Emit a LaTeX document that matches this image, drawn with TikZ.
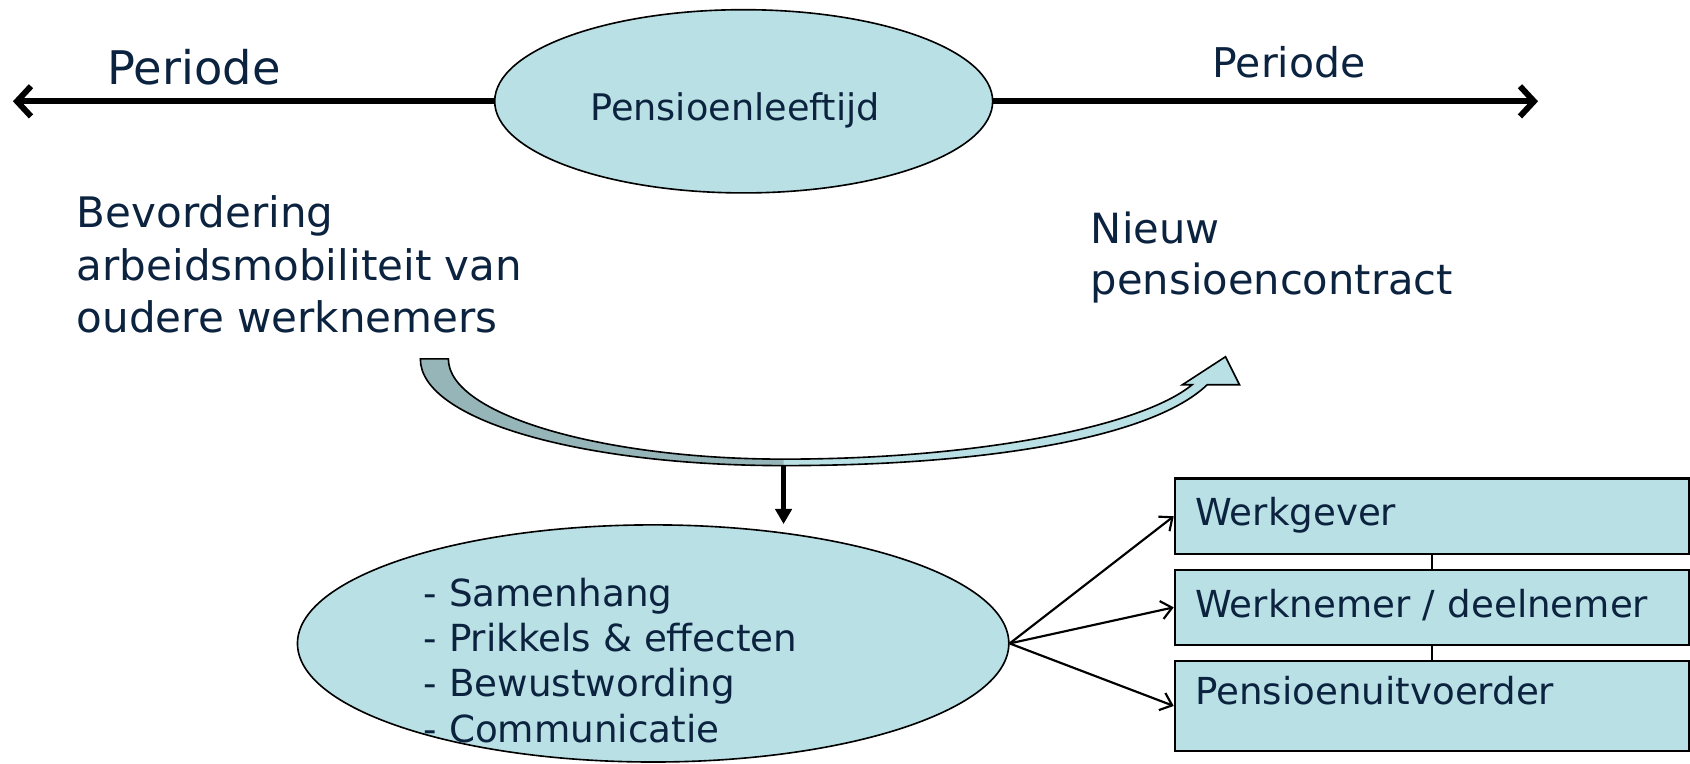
\documentclass[tikz,border=0pt]{standalone}
\usepackage{fontspec}
\setmainfont{DejaVu Sans}
\usetikzlibrary{arrows.meta}
\usetikzlibrary{shapes.geometric}
\definecolor{lichtblauw}{RGB}{185,224,228}
\definecolor{donkerblauw}{RGB}{150,181,184}
\definecolor{tekstkleur}{RGB}{12,35,64}
\begin{document}
\begin{tikzpicture}[line join=miter,x=1pt,y=-1pt,
    ovaal/.style={ellipse,draw=black,line width=1.5pt,fill=lichtblauw,inner sep=0pt},
    tekst/.style={text=tekstkleur,inner sep=0pt,align=left},
    blok/.style={rectangle,draw=black,line width=2pt,fill=lichtblauw,text=tekstkleur,
      font=\fontsize{34.5}{41}\selectfont,align=left,text width=439pt,inner xsep=19pt,
      inner ysep=0pt,minimum height=70pt,text height=26pt,text depth=8pt},
    pijl/.style={line width=5.5pt,-{Straight Barb[length=13pt,width=28pt]}},
    dun/.style={line width=2pt,-{Straight Barb[length=10pt,width=17pt]}}]
      \useasboundingbox (0,0) rectangle (1568,708);
      \fill[white] (0,0) rectangle (1568,708);
      % bovenste ovaal met de twee perioden
      \node[ovaal,minimum width=462pt,minimum height=170pt] (leeftijd) at (690,94) {};
      \node[tekst,font=\fontsize{34}{40}\selectfont] (leeftijdtekst) at (682,102) {Pensioenleeftijd};
      \coordinate (links) at (12,94);
      \coordinate (rechts) at (1427,94);
      \draw[pijl] (leeftijd.west) -- (links);
      \draw[pijl] (leeftijd.east) -- (rechts);
      \node[tekst,font=\fontsize{43}{50}\selectfont] (periodelinks) at (180,62) {Periode};
      \node[tekst,font=\fontsize{38}{45}\selectfont] (perioderechts) at (1196,58) {Periode};
      \node[tekst,anchor=north west,font=\fontsize{39}{49}\selectfont] (bevordering) at (71,181) {Bevordering\\arbeidsmobiliteit van\\oudere werknemers};
      \node[tekst,anchor=north west,font=\fontsize{38.6}{48}\selectfont] (contract) at (1012,196) {Nieuw\\pensioencontract};
      % gebogen pijl
      \fill[lichtblauw] (390,333) -- (416,333) .. controls (416,385) and (560,426) .. (727,426)
        .. controls (910,426) and (1060,395) .. (1106,357) -- (1097,357) -- (1137,331) -- (1150,357) -- (1120,357)
        .. controls (1070,405) and (920,432) .. (727,432) .. controls (540,432) and (390,390) .. (390,333) -- cycle;
      \fill[donkerblauw] (390,333) -- (416,333) .. controls (416,385) and (560,426) .. (727,426)
        -- (727,432) .. controls (540,432) and (390,390) .. (390,333) -- cycle;
      \draw[line width=1.5pt] (390,333) -- (416,333) .. controls (416,385) and (560,426) .. (727,426)
        .. controls (910,426) and (1060,395) .. (1106,357) -- (1097,357) -- (1137,331) -- (1150,357) -- (1120,357)
        .. controls (1070,405) and (920,432) .. (727,432) .. controls (540,432) and (390,390) .. (390,333) -- cycle;
      % onderste ovaal
      \node[ovaal,minimum width=660pt,minimum height=220pt] (bespreek) at (606,597) {};
      \node[tekst,anchor=north west,font=\fontsize{34.6}{42}\selectfont] (lijst) at (393,536) {- Samenhang\\- Prikkels \& effecten\\- Bewustwording\\- Communicatie};
      \coordinate (boog) at (727,432);
      \draw[line width=4pt,-{Triangle[length=14pt,width=15pt]}] (boog) -- (boog |- bespreek.north);
      % partijen
      \node[blok] (werkgever) at (1328.5,479) {Werkgever};
      \node[blok] (werknemer) at (1328.5,563.5) {Werknemer / deelnemer};
      \node[blok,minimum height=84pt,text depth=28pt] (uitvoerder) at (1328.5,655) {Pensioenuitvoerder};
      \draw[line width=1.5pt] (werkgever) -- (werknemer);
      \draw[line width=1.5pt] (werknemer) -- (uitvoerder);
      \foreach \b in {werkgever,werknemer,uitvoerder}
      \draw[dun] (bespreek.east) -- (\b.west);
\end{tikzpicture}
\end{document}
